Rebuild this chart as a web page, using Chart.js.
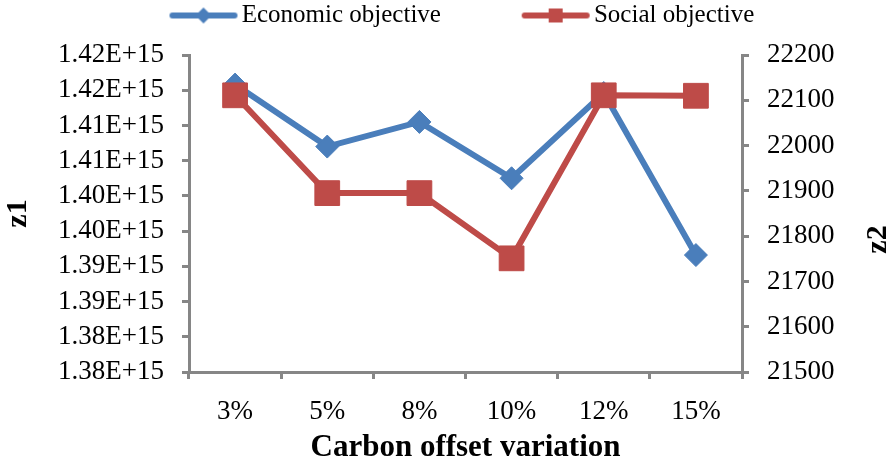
<!DOCTYPE html>
<html lang="en">
<head>
  <meta charset="UTF-8" />
  <title>Carbon offset variation</title>
  <script src="https://cdn.jsdelivr.net/npm/chart.js"></script>
  <style>
    body { margin: 0; background: #fff; }
    #wrap { width: 888px; height: 465px; }
  </style>
</head>
<body>

<div id="wrap"><canvas id="chart" width="888" height="465"></canvas></div>

<script>
  const categories = ['3%', '5%', '8%', '10%', '12%', '15%'];
  const economic = [1.4208e15, 1.4120e15, 1.4155e15, 1.4075e15, 1.4196e15, 1.3966e15];
  const social = [22111, 21895, 21895, 21751, 22111, 22110];
  const z1Ticks = ['1.38E+15', '1.38E+15', '1.39E+15', '1.39E+15', '1.40E+15',
                   '1.40E+15', '1.41E+15', '1.41E+15', '1.42E+15', '1.42E+15'];
  const z2Ticks = ['21500', '21600', '21700', '21800', '21900', '22000', '22100', '22200'];

  const BLUE = '#4A7EBB';
  const RED = '#BE4B48';
  const AXIS = '#868686';
  const SERIF = "'Liberation Serif', 'Times New Roman', serif";

  Chart.defaults.font.family = SERIF;
  Chart.defaults.color = '#000';

  // excel style legend key: short line with the marker on it
  function legendKey(color, shape) {
    const c = document.createElement('canvas');
    c.width = 156; c.height = 30;
    const g = c.getContext('2d');
    g.strokeStyle = color;
    g.lineWidth = 6;
    g.lineCap = 'round';
    g.beginPath(); g.moveTo(90, 15); g.lineTo(152, 15); g.stroke();
    g.fillStyle = color;
    g.beginPath();
    if (shape === 'diamond') {
      g.moveTo(121, 7); g.lineTo(129, 15); g.lineTo(121, 23); g.lineTo(113, 15); g.closePath();
    } else {
      g.rect(114, 8, 14, 14);
    }
    g.fill();
    return c;
  }
  const keys = [legendKey(BLUE, 'diamond'), legendKey(RED, 'square')];

  // move legend to the very top and a bit left, like the excel original
  const legendShift = {
    id: 'legendShift',
    afterLayout(chart) {
      const lg = chart.legend;
      const dy = lg.top;
      lg.top -= dy; lg.bottom -= dy;
      lg.left -= 21; lg.right -= 21;
    }
  };

  // secondary axis title, rotated the same way as z1
  const z2Title = {
    id: 'z2Title',
    afterDraw(chart) {
      const a = chart.chartArea;
      const ctx = chart.ctx;
      ctx.save();
      ctx.translate(878, (a.top + a.bottom) / 2 + 26);
      ctx.rotate(-Math.PI / 2);
      ctx.font = 'bold 30px ' + SERIF;
      ctx.fillStyle = '#000';
      ctx.textAlign = 'center';
      ctx.textBaseline = 'middle';
      ctx.fillText('z2', 0, 0);
      ctx.restore();
    }
  };

  new Chart(document.getElementById('chart'), {
    type: 'line',
    data: {
      labels: categories,
      datasets: [{
        label: 'Economic objective',
        data: economic,
        yAxisID: 'y',
        order: 1,
        borderColor: BLUE,
        backgroundColor: BLUE,
        borderWidth: 6,
        pointStyle: 'rectRot',
        pointRadius: 11.5,
        pointBorderWidth: 1,
        tension: 0
      }, {
        label: 'Social objective',
        data: social,
        yAxisID: 'y2',
        order: 0,
        borderColor: RED,
        backgroundColor: RED,
        borderWidth: 6,
        pointStyle: 'rect',
        pointRadius: 17.5,
        pointBorderWidth: 1,
        tension: 0
      }]
    },
    options: {
      responsive: false,
      animation: false,
      layout: { padding: 0 },
      plugins: {
        tooltip: { enabled: false },
        legend: {
          position: 'top',
          labels: {
            usePointStyle: true,
            pointStyleWidth: 137.5,
            padding: 3,
            font: { size: 25 },
            sort: (a, b) => a.datasetIndex - b.datasetIndex,
            generateLabels(chart) {
              const items = Chart.defaults.plugins.legend.labels.generateLabels(chart);
              items.forEach(it => { it.pointStyle = keys[it.datasetIndex]; });
              return items;
            }
          }
        }
      },
      scales: {
        x: {
          offset: true,
          afterFit(s) { s.height = 93; },
          border: { display: true, color: AXIS, width: 3 },
          grid: { drawOnChartArea: false, offset: true, tickLength: 7, color: AXIS, lineWidth: 3 },
          ticks: { padding: 19, font: { size: 27, lineHeight: 1 }, maxRotation: 0, autoSkip: false },
          title: {
            display: true,
            text: 'Carbon offset variation',
            font: { size: 31, weight: 'bold', lineHeight: 1 },
            padding: { top: 0, bottom: 2 }
          }
        },
        y: {
          position: 'left',
          min: 1.38e15,
          max: 1.425e15,
          afterFit(s) { s.width = 189; s.paddingTop = 55; },
          border: { display: true, color: AXIS, width: 3 },
          grid: { drawOnChartArea: false, tickLength: 7, color: AXIS, lineWidth: 3 },
          ticks: {
            stepSize: 5e12,
            padding: 18,
            autoSkip: false,
            font: { size: 27 },
            callback: (v, i) => z1Ticks[i]
          },
          title: {
            display: true,
            text: 'z1',
            font: { size: 30, weight: 'bold', lineHeight: 1 },
            padding: { top: 3, bottom: 0 }
          }
        },
        y2: {
          position: 'right',
          min: 21500,
          max: 22200,
          afterFit(s) { s.width = 146; s.paddingTop = 55; },
          border: { display: true, color: AXIS, width: 3 },
          grid: { drawOnChartArea: false, tickLength: 7, color: AXIS, lineWidth: 3 },
          ticks: {
            stepSize: 100,
            padding: 18,
            autoSkip: false,
            font: { size: 27 },
            callback: (v, i) => z2Ticks[i]
          },
          title: { display: false, text: 'z2' }
        }
      }
    },
    plugins: [legendShift, z2Title]
  });
</script>

</body>
</html>
